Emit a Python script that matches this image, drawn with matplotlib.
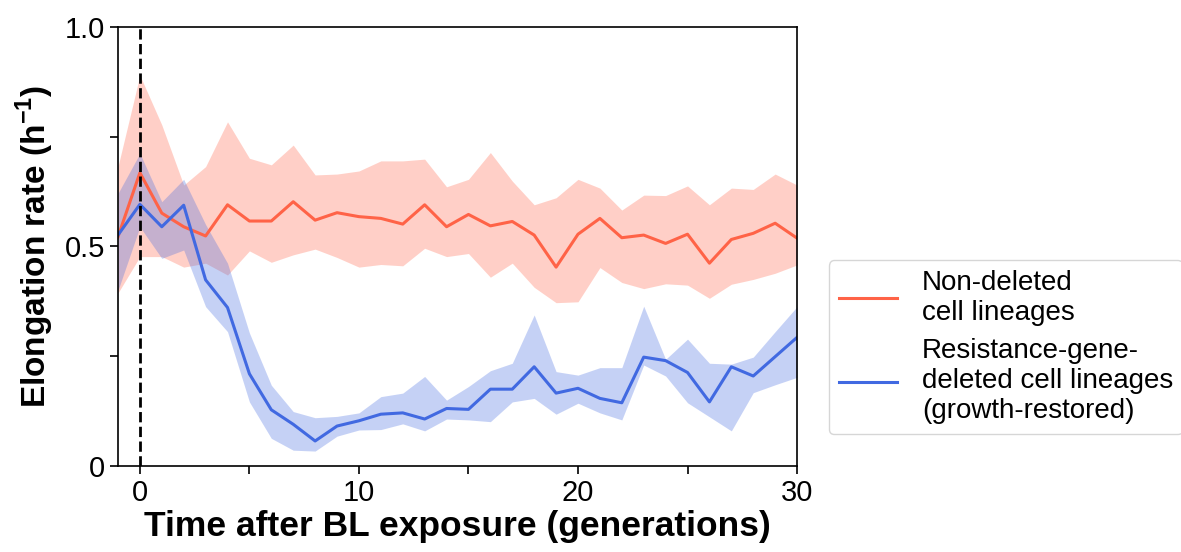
import numpy as np
import matplotlib
matplotlib.use('Agg')
import matplotlib.pyplot as plt

plt.rcParams['font.family'] = ['Liberation Sans', 'DejaVu Sans']

gen = np.arange(-1, 31)

# non-deleted lineages
red_mean = [0.522, 0.668, 0.576, 0.545, 0.524, 0.595, 0.558, 0.558, 0.602, 0.560,
            0.577, 0.568, 0.564, 0.551, 0.595, 0.545, 0.573, 0.547, 0.557, 0.526,
            0.453, 0.528, 0.564, 0.520, 0.526, 0.507, 0.528, 0.462, 0.516, 0.530,
            0.553, 0.519]
red_hi = [0.682, 0.890, 0.777, 0.640, 0.682, 0.784, 0.701, 0.686, 0.731, 0.663,
          0.665, 0.672, 0.695, 0.695, 0.699, 0.636, 0.653, 0.714, 0.649, 0.595,
          0.611, 0.653, 0.633, 0.583, 0.617, 0.616, 0.638, 0.595, 0.633, 0.630,
          0.665, 0.640]
red_lo = [0.394, 0.477, 0.477, 0.453, 0.462, 0.435, 0.490, 0.464, 0.481, 0.494,
          0.475, 0.453, 0.459, 0.456, 0.496, 0.477, 0.484, 0.430, 0.462, 0.407,
          0.372, 0.374, 0.452, 0.418, 0.404, 0.415, 0.412, 0.382, 0.414, 0.425,
          0.439, 0.458]

# resistance-gene-deleted lineages (growth-restored)
blue_mean = [0.526, 0.596, 0.545, 0.594, 0.424, 0.361, 0.210, 0.128, 0.095, 0.057,
             0.091, 0.103, 0.118, 0.121, 0.107, 0.131, 0.129, 0.175, 0.175, 0.226,
             0.166, 0.177, 0.154, 0.144, 0.248, 0.240, 0.213, 0.146, 0.226, 0.205,
             0.249, 0.293]
blue_hi = [0.621, 0.712, 0.602, 0.653, 0.550, 0.462, 0.303, 0.184, 0.124, 0.110,
           0.113, 0.121, 0.158, 0.166, 0.204, 0.150, 0.181, 0.217, 0.234, 0.344,
           0.215, 0.207, 0.224, 0.224, 0.364, 0.243, 0.289, 0.234, 0.232, 0.248,
           0.306, 0.363]
blue_lo = [0.400, 0.545, 0.473, 0.492, 0.363, 0.306, 0.146, 0.063, 0.036, 0.034,
           0.068, 0.082, 0.083, 0.096, 0.080, 0.107, 0.105, 0.101, 0.146, 0.154,
           0.118, 0.143, 0.121, 0.105, 0.230, 0.205, 0.144, 0.112, 0.080, 0.167,
           0.185, 0.202]

fig = plt.figure(figsize=(11.81, 5.52), dpi=100)
ax = fig.add_axes([0.0999, 0.1558, 0.5750, 0.7953])

ax.fill_between(gen, red_lo, red_hi, color='tomato', alpha=0.3, lw=0)
ax.fill_between(gen, blue_lo, blue_hi, color='royalblue', alpha=0.3, lw=0)
ax.plot(gen, red_mean, color='tomato', lw=2.2, label='Non-deleted\ncell lineages')
ax.plot(gen, blue_mean, color='royalblue', lw=2.2,
        label='Resistance-gene-\ndeleted cell lineages\n(growth-restored)')
ax.axvline(0, color='k', ls='--', lw=2)

ax.set_xlim(-1, 30)
ax.set_ylim(0, 1)
ax.set_xticks([0, 10, 20, 30])
ax.set_xticks([5, 15, 25], minor=True)
ax.set_yticks([0, 0.5, 1.0])
ax.set_yticklabels(['0', '0.5', '1.0'])
ax.set_yticks([0.25, 0.75], minor=True)
ax.tick_params(which='both', direction='out', length=6, width=1.2, labelsize=21)
for s in ax.spines.values():
    s.set_linewidth(1.2)

ax.set_xlabel('Time after BL exposure (generations)', fontsize=25.5, fontweight='bold', labelpad=2)
ax.set_ylabel('Elongation rate (h$^{\\mathregular{-1}}$)', fontsize=24, fontweight='bold', labelpad=6)

leg = fig.legend(loc='center left', bbox_to_anchor=(0.69, 0.371), fontsize=20,
                 handlelength=2.1, frameon=True, fancybox=True, edgecolor='#cccccc',
                 labelspacing=0.45, handletextpad=0.9, borderpad=0.35)

fig.savefig('out.png', dpi=100)
